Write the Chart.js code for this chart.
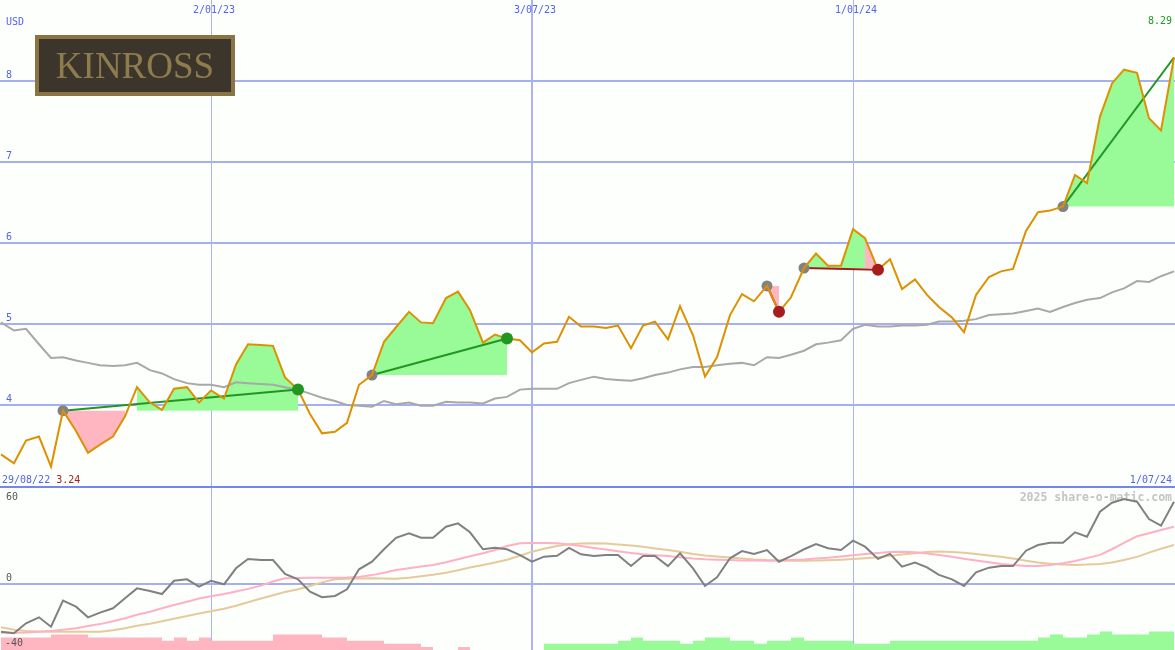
<!DOCTYPE html>
<html>
<head>
<meta charset="utf-8">
<title>Kinross share chart</title>
<script src="https://cdn.jsdelivr.net/npm/chart.js@4.4.1/dist/chart.umd.min.js"></script>
<style>
html,body{margin:0;padding:0;background:#fcfffc;overflow:hidden}
#wrap{position:relative;width:1175px;height:650px}
canvas{display:block}
</style>
</head>
<body>
<div id="wrap"><canvas id="c" width="1175" height="650"></canvas></div>
<script>
// ---------- data (weekly, index 0 = first week) ----------
const priceClose = [
 3.39,3.28,3.56,3.61,3.24,3.93,3.68,3.41,3.51,3.61,
 3.86,4.22,4.03,3.94,4.20,4.22,4.03,4.18,4.08,4.50,
 4.75,4.74,4.73,4.34,4.19,3.89,3.65,3.67,3.78,4.25,
 4.37,4.78,4.96,5.15,5.02,5.01,5.32,5.40,5.17,4.77,
 4.87,4.82,4.80,4.65,4.76,4.78,5.09,4.97,4.97,4.95,
 4.98,4.70,4.98,5.03,4.81,5.22,4.86,4.35,4.59,5.11,
 5.37,5.28,5.47,5.15,5.33,5.69,5.87,5.72,5.72,6.17,
 6.06,5.67,5.80,5.43,5.55,5.36,5.21,5.08,4.90,5.36,
 5.58,5.65,5.68,6.15,6.38,6.40,6.45,6.84,6.74,7.56,
 7.97,8.14,8.10,7.54,7.39,8.29];
const priceMA = [
 5.02,4.92,4.94,4.75,4.58,4.59,4.55,4.52,4.49,4.48,
 4.49,4.52,4.43,4.39,4.32,4.27,4.25,4.25,4.22,4.28,
 4.27,4.26,4.25,4.22,4.19,4.14,4.09,4.05,4.00,3.99,
 3.98,4.05,4.01,4.03,3.99,3.99,4.04,4.03,4.03,4.02,
 4.08,4.10,4.19,4.20,4.20,4.20,4.27,4.31,4.35,4.32,
 4.31,4.30,4.33,4.37,4.40,4.44,4.47,4.47,4.49,4.51,
 4.52,4.49,4.59,4.58,4.62,4.67,4.75,4.77,4.80,4.94,
 4.99,4.97,4.97,4.98,4.98,4.99,5.03,5.03,5.04,5.06,
 5.11,5.12,5.13,5.16,5.19,5.15,5.21,5.26,5.30,5.32,
 5.39,5.44,5.53,5.52,5.59,5.65];
const oscMain = [
 -29.5,-30.5,-24.3,-20.6,-26.4,-10.3,-14.0,-20.6,-17.7,-15.0,
 -8.8,-2.7,-4.3,-6.2,2.0,2.9,-1.6,2.0,-0.2,9.7,
 15.5,14.8,14.8,6.2,2.9,-4.8,-8.2,-7.4,-3.3,9.1,
 13.8,21.5,28.6,31.4,28.6,28.6,35.4,37.5,32.0,21.5,
 22.4,21.5,17.9,13.8,16.9,17.5,22.4,18.4,17.3,17.9,
 17.9,11.1,17.3,17.3,11.1,19.0,9.7,-1.2,4.1,15.9,
 20.4,18.6,21.0,13.8,17.3,21.5,24.7,22.1,21.0,26.8,
 23.1,15.5,18.6,10.7,13.2,10.3,5.6,2.9,-1.2,7.2,
 10.1,11.1,11.1,20.6,24.1,25.5,25.5,32.0,29.3,44.7,
 50.3,52.6,50.9,40.2,36.1,50.9];
const oscSignal = [
 -30.1,-30.1,-30.0,-29.6,-29.0,-28.3,-27.3,-26.0,-24.8,-23.0,
 -21.2,-19.0,-17.2,-15.0,-13.0,-11.0,-9.0,-7.6,-6.2,-4.6,
 -3.0,-1.0,1.5,3.5,3.7,3.8,3.9,3.9,4.0,4.4,
 5.5,7.0,8.6,9.8,10.8,11.8,13.5,15.3,17.2,19.0,
 21.0,23.5,25.2,25.3,25.3,25.2,24.5,23.5,22.3,21.3,
 20.2,19.2,18.4,17.8,17.3,16.6,15.8,15.3,15.0,14.8,
 14.6,14.5,14.4,14.5,14.8,15.2,15.8,16.3,17.0,17.8,
 18.6,19.2,19.8,20.0,19.6,18.9,17.9,16.8,15.6,14.5,
 13.4,12.4,11.7,11.2,11.2,11.8,12.8,14.2,16.0,18.0,
 21.5,25.5,29.5,31.4,33.4,35.4];
const oscSlow = [
 -26.8,-28.3,-29.0,-29.3,-29.5,-29.5,-29.5,-29.5,-29.5,-28.6,
 -27.3,-25.8,-24.6,-23.0,-21.5,-19.8,-18.3,-16.8,-15.3,-13.5,
 -11.3,-9.0,-7.0,-5.0,-3.2,-1.2,1.0,2.9,3.2,3.4,
 3.5,3.4,3.3,3.9,4.8,5.7,7.0,8.5,10.2,11.8,
 13.3,15.0,17.5,20.0,21.8,23.5,24.6,25.0,25.2,25.0,
 24.5,23.8,23.0,22.0,21.0,20.0,18.5,17.6,17.0,16.4,
 15.8,15.2,14.8,14.6,14.4,14.4,14.5,14.7,15.0,15.4,
 15.9,16.6,17.4,18.3,19.0,19.8,20.1,19.8,19.3,18.6,
 17.7,16.9,15.8,14.4,13.3,12.6,12.0,11.8,12.0,12.4,
 13.3,14.8,16.8,19.4,21.8,24.1];
const oscHist = [
 -5.5,-4,-4,-4,-4,-5,-5,-5,-4,-4,
 -4,-4,-4,-4,-3,-4,-3,-4,-3,-3,
 -3,-3,-3,-5,-5,-5,-5,-4,-4,-3,
 -3,-3,-2,-2,-2,-1,0,-1,-1,0,
 0,0,0,0,1,2,2,2,2,2,
 2,3,4,3,3,3,2,3,4,4,
 3,3,2,3,3,4,3,3,3,3,
 2,2,2,3,3,3,3,3,3,3,
 3,3,3,3,3,4,5,4,4,5,
 6,5,5,5,6];
const tradeEntry = [5, 30, 62, 65, 86];
const tradeExit  = [24, 41, 63, 71, 95];
const tradeOpen  = [false, false, false, false, true];

const priceGrid = [4, 5, 6, 7, 8];
const oscGrid = [60, 0];
const oscLabels = [60, 0, -40];
const dateGridIdx = [17, 43, 69];
const dateGridLabels = ['2/01/23', '3/07/23', '1/01/24'];
const startDateLabel = '29/08/22';
const endDateLabel = '1/07/24';
const currencyLabel = 'USD';
const companyName = 'KINROSS';
const watermark = '2025 share-o-matic.com';

// ---------- styles ----------
const COL = {
  grid: 'rgb(164,176,242)',
  vgrid: 'rgb(170,180,242)',
  sep: 'rgb(118,134,236)',
  text: 'rgb(84,100,236)',
  price: 'rgb(221,145,0)',
  ma: 'rgb(168,168,168)',
  up: 'rgb(152,251,152)',
  down: 'rgb(255,182,193)',
  win: 'rgb(34,150,34)',
  loss: 'rgb(164,30,30)',
  entry: 'rgb(130,130,130)',
  osc: 'rgb(128,128,128)',
  sig: 'rgb(255,176,196)',
  slow: 'rgb(230,202,154)',
  oscText: 'rgb(85,85,85)',
  mark: 'rgb(196,196,196)'
};
const MONO = '"DejaVu Sans Mono", monospace';
const CLEAR = 'rgba(0,0,0,0)';

const pts = arr => arr.map((v, i) => ({x: i, y: v}));

const datasets = [];

// histogram (bottom panel): each week's block spans [k, k+1]
const histPts = oscHist.map((v, k) => ({x: k, y: Math.abs(v)}));
histPts.push({x: oscHist.length, y: Math.abs(oscHist[oscHist.length - 1])});
datasets.push({
  type: 'line', label: 'hist', xAxisID: 'x', yAxisID: 'yb', order: 100,
  data: histPts, stepped: 'after', borderWidth: 0, pointRadius: 0,
  backgroundColor: COL.down, fill: 'origin',
  segment: {
    backgroundColor: c => (oscHist[c.p0DataIndex] < 0 ? COL.down : (oscHist[c.p0DataIndex] > 0 ? COL.up : CLEAR))
  }
});

// trade fills
tradeEntry.forEach((s, t) => {
  const e = tradeExit[t];
  const L = priceClose[s];
  const d = [];
  for (let i = s; i <= e; i++) d.push({x: i, y: priceClose[i]});
  datasets.push({
    type: 'line', label: 'fill' + t, xAxisID: 'x', yAxisID: 'y', order: 90,
    data: d, borderWidth: 0, pointRadius: 0, backgroundColor: COL.up,
    fill: {target: {value: L}, above: COL.up, below: COL.down},
    segment: {
      backgroundColor: c => {
        const a = c.p0.parsed.y, b = c.p1.parsed.y;
        if (b < L) return COL.down;
        if (a < L) return CLEAR;
        return COL.up;
      }
    }
  });
});

// oscillator lines
[[oscSlow, COL.slow], [oscSignal, COL.sig], [oscMain, COL.osc]].forEach(([arr, col], k) => {
  datasets.push({
    type: 'line', label: 'osc' + k, xAxisID: 'x', yAxisID: 'y2', order: 80 - k,
    data: pts(arr), borderColor: col, borderWidth: 2, pointRadius: 0, fill: false
  });
});

// moving average
datasets.push({
  type: 'line', label: 'ma', xAxisID: 'x', yAxisID: 'y', order: 70,
  data: pts(priceMA), borderColor: COL.ma, borderWidth: 2, pointRadius: 0, fill: false
});

// trade lines
tradeEntry.forEach((s, t) => {
  const e = tradeExit[t];
  const win = priceClose[e] >= priceClose[s];
  datasets.push({
    type: 'line', label: 'trade' + t, xAxisID: 'x', yAxisID: 'y', order: 60,
    data: [{x: s, y: priceClose[s]}, {x: e, y: priceClose[e]}],
    borderColor: win ? COL.win : COL.loss, borderWidth: 2, pointRadius: 0, fill: false
  });
});

// entry markers
datasets.push({
  type: 'line', label: 'entries', xAxisID: 'x', yAxisID: 'y', order: 55, showLine: false,
  data: tradeEntry.map(s => ({x: s, y: priceClose[s]})),
  pointRadius: 5.5, pointBorderWidth: 0, pointBackgroundColor: COL.entry
});

// price line
datasets.push({
  type: 'line', label: 'price', xAxisID: 'x', yAxisID: 'y', order: 50,
  data: pts(priceClose), borderColor: COL.price, borderWidth: 2, pointRadius: 0, fill: false
});

// exit markers
const closed = tradeExit.map((e, t) => t).filter(t => !tradeOpen[t]);
datasets.push({
  type: 'line', label: 'exits', xAxisID: 'x', yAxisID: 'y', order: 10, showLine: false,
  data: closed.map(t => ({x: tradeExit[t], y: priceClose[tradeExit[t]]})),
  pointRadius: 6, pointBorderWidth: 0,
  pointBackgroundColor: closed.map(t => priceClose[tradeExit[t]] >= priceClose[tradeEntry[t]] ? COL.win : COL.loss)
});

const hiddenTicks = {display: false};
const textPlugin = {
  id: 'texts',
  beforeDatasetsDraw(chart) {
    const ctx = chart.ctx, so = chart.scales.y2;
    ctx.save();
    ctx.font = 'bold 11.5px ' + MONO;
    ctx.fillStyle = COL.mark;
    ctx.textAlign = 'right';
    ctx.textBaseline = 'alphabetic';
    ctx.fillText(watermark, 1172, so.getPixelForValue(60) + 14);
    ctx.restore();
  },
  afterDraw(chart) {
    const ctx = chart.ctx, sx = chart.scales.x, sy = chart.scales.y, so = chart.scales.y2;
    ctx.save();
    ctx.textBaseline = 'alphabetic';
    ctx.font = '10px ' + MONO;
    ctx.fillStyle = COL.text;
    ctx.textAlign = 'left';
    ctx.fillText(currencyLabel, 6, 25);
    priceGrid.forEach(v => ctx.fillText(String(v), 6, sy.getPixelForValue(v) - 3));
    ctx.textAlign = 'center';
    dateGridIdx.forEach((v, k) => ctx.fillText(dateGridLabels[k], sx.getPixelForValue(v) + 3, 13));
    const panelBottom = so.getPixelForValue(oscGrid[0]);
    ctx.textAlign = 'left';
    ctx.fillText(startDateLabel, 2, panelBottom - 4);
    const w = ctx.measureText(startDateLabel + ' ').width;
    ctx.fillStyle = COL.loss;
    ctx.fillText(Math.min(...priceClose).toFixed(2), 2 + w, panelBottom - 4);
    ctx.fillStyle = COL.text;
    ctx.textAlign = 'right';
    ctx.fillText(endDateLabel, 1172, panelBottom - 4);
    ctx.fillStyle = COL.win;
    ctx.fillText(priceClose[priceClose.length - 1].toFixed(2), 1172, 24);
    // oscillator labels
    ctx.fillStyle = COL.oscText;
    ctx.textAlign = 'left';
    oscLabels.forEach(v => {
      const p = so.getPixelForValue(v);
      const y = (p - panelBottom < 10) ? p + 13 : p - 3;
      ctx.fillText(String(v), v < 0 ? 5 : 6, y);
    });
    // logo
    ctx.fillStyle = 'rgb(138,116,68)';
    ctx.fillRect(35, 35, 200, 61);
    ctx.fillStyle = 'rgb(60,53,44)';
    ctx.fillRect(39, 39, 192, 53);
    ctx.fillStyle = 'rgb(142,124,76)';
    ctx.font = '37px "Liberation Serif", serif';
    ctx.textAlign = 'center';
    ctx.fillText(companyName, 135, 78);
    ctx.restore();
  }
};

new Chart(document.getElementById('c'), {
  type: 'line',
  data: {datasets},
  plugins: [textPlugin],
  options: {
    responsive: false,
    animation: false,
    devicePixelRatio: 1,
    events: [],
    layout: {padding: 0, autoPadding: false},
    elements: {line: {tension: 0}},
    plugins: {legend: {display: false}, tooltip: {enabled: false}},
    scales: {
      x: {
        type: 'linear', min: -0.12, max: 95.1, alignToPixels: true,
        afterBuildTicks: s => { s.ticks = dateGridIdx.map(v => ({value: v})); },
        ticks: hiddenTicks, border: {display: false},
        grid: {drawTicks: false, color: COL.vgrid, lineWidth: c => (c.index === 1 ? 2 : 1)}
      },
      y: {
        type: 'linear', position: 'left', min: 9 - 650 / 81, max: 9,
        afterBuildTicks: s => { s.ticks = priceGrid.map(v => ({value: v})); },
        ticks: hiddenTicks, border: {display: false},
        grid: {drawTicks: false, color: COL.grid, lineWidth: 2}
      },
      y2: {
        type: 'linear', position: 'left', min: -40.82, max: 361.24,
        afterBuildTicks: s => { s.ticks = oscGrid.map(v => ({value: v})); },
        ticks: hiddenTicks, border: {display: false},
        grid: {drawTicks: false, color: c => (c.tick && c.tick.value === oscGrid[0] ? COL.sep : COL.grid), lineWidth: 2}
      },
      yb: {type: 'linear', min: 0, max: 209.68, display: false}
    }
  }
});
</script>
</body>
</html>
